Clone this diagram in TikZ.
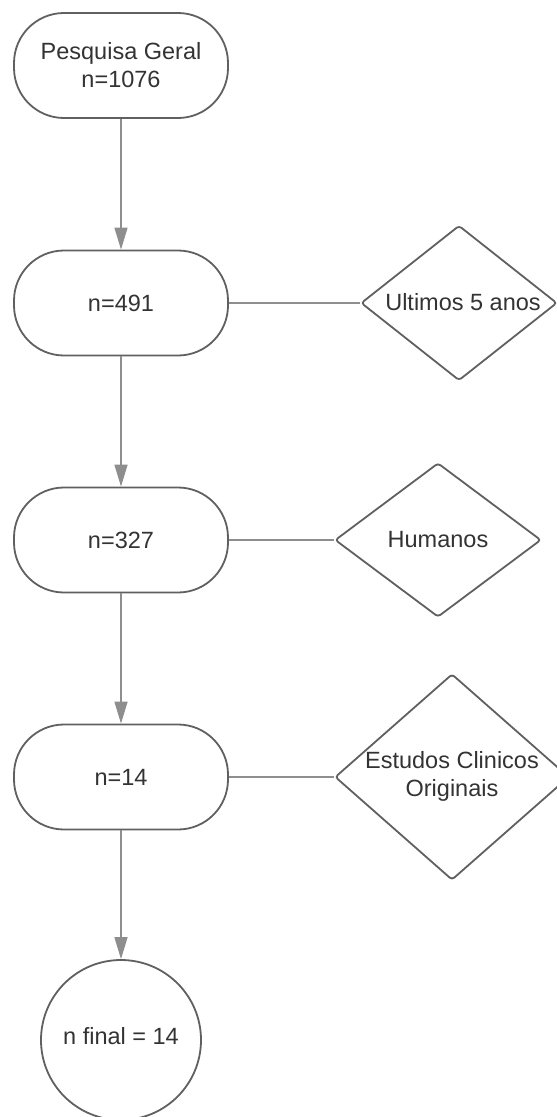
\documentclass[tikz,border=0pt]{standalone}
\usepackage{fontspec}
\setmainfont{Liberation Sans}
\usetikzlibrary{arrows.meta,shapes.geometric}
\definecolor{edgegray}{HTML}{606060}
\definecolor{linegray}{HTML}{8E8E8E}
\definecolor{txtgray}{HTML}{333333}
\tikzset{
  lbl/.style={font=\fontsize{23.5}{28}\selectfont, text=txtgray, align=center},
  stadium/.style={draw=edgegray, line width=1.8pt, rounded corners=50pt,
    minimum width=214pt, minimum height=105pt, inner sep=0pt, fill=white},
  dia/.style={draw=edgegray, line width=1.8pt, diamond, inner sep=0pt,
    rounded corners=3pt, fill=white},
  endcirc/.style={draw=edgegray, line width=1.8pt, circle, minimum size=160pt,
    inner sep=0pt, fill=white},
  flow/.style={draw=linegray, line width=1.4pt,
    -{Triangle[length=22pt,width=13pt,fill=linegray]}},
  link/.style={draw=linegray, line width=1.4pt}
}
\begin{document}
\begin{tikzpicture}[x=1pt,y=-1pt]
\useasboundingbox (0,0) rectangle (557,1117);
\node[stadium] (b1) at (121,65.5) {};
\node[lbl] (t1) at (b1) {Pesquisa Geral\\n=1076};
\node[stadium] (b2) at (121,303) {};
\node[lbl] (t2) at (b2) {n=491};
\node[stadium] (b3) at (121,540) {};
\node[lbl] (t3) at (b3) {n=327};
\node[stadium] (b4) at (121,777) {};
\node[lbl] (t4) at (b4) {n=14};
\node[endcirc] (c5) at (121,1040) {};
\node[lbl] (t5) at (121,1036) {n final = 14};

\node[dia, minimum width=196pt, minimum height=155pt] (d1) at (459,303) {};
\node[lbl] (dt1) at (463,302) {Ultimos 5 anos};
\node[dia, minimum width=206pt, minimum height=154pt] (d2) at (438,540) {};
\node[lbl] (dt2) at (d2) {Humanos};
\node[dia, minimum width=234pt, minimum height=206pt] (d3) at (452,777) {};
\node[lbl] (dt3) at (452,776) {Estudos Clinicos\\Originais};

\draw[flow] (b1.south) -- (b2.north);
\draw[flow] (b2.south) -- (b3.north);
\draw[flow] (b3.south) -- (b4.north);
\draw[flow] (b4.south) -- (c5.north);
\draw[link] (b2.east) -- (d1.west);
\draw[link] (b3.east) -- (d2.west);
\draw[link] (b4.east) -- (d3.west);
\end{tikzpicture}
\end{document}
